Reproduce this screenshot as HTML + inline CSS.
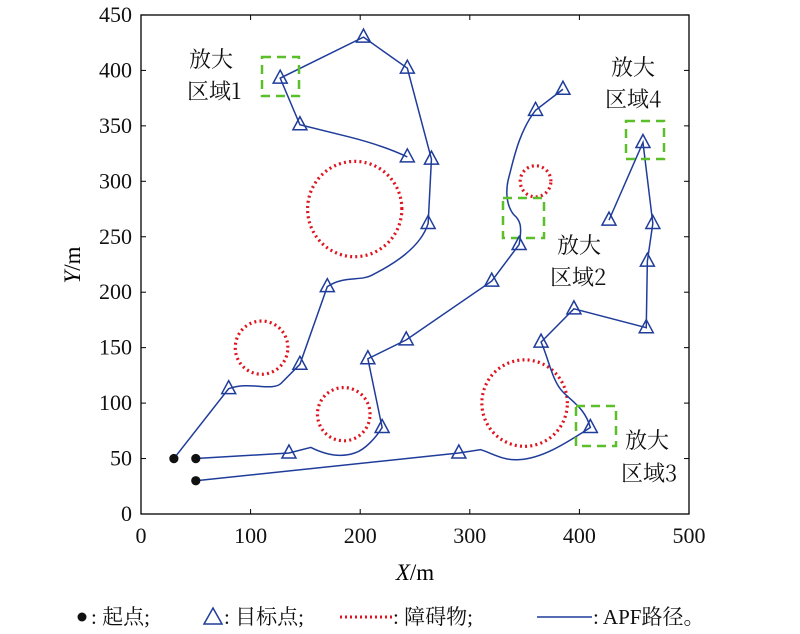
<!DOCTYPE html>
<html><head><meta charset="utf-8"><style>
body{margin:0;background:#fff;}
svg{display:block;font-family:"Liberation Serif","Noto Serif CJK SC",serif;}
</style></head><body>
<svg id="s" width="800" height="634" viewBox="0 0 800 634">
<rect x="141" y="15" width="548" height="499" fill="none" stroke="#000" stroke-width="1.3"/>
<g id="ticks" stroke="#000" stroke-width="1"></g>
<g font-size="22" fill="#111" id="lab"></g>
<text x="415" y="580" font-size="23" text-anchor="middle"><tspan font-style="italic">X</tspan>/m</text>
<text transform="translate(80,265) rotate(-90)" font-size="23" text-anchor="middle"><tspan font-style="italic">Y</tspan>/m</text>
<g transform="translate(141,514) scale(1.096,-1.109)">
 <g fill="none" stroke="#e0141e" stroke-width="3.2" stroke-dasharray="2 3.2">
  <circle cx="195" cy="275" r="43" vector-effect="non-scaling-stroke"/>
  <circle cx="110" cy="150" r="24" vector-effect="non-scaling-stroke"/>
  <circle cx="185" cy="90" r="24" vector-effect="non-scaling-stroke"/>
  <circle cx="350" cy="100" r="39" vector-effect="non-scaling-stroke"/>
  <circle cx="360" cy="300" r="14" vector-effect="non-scaling-stroke"/>
 </g>
 <g fill="none" stroke="#1f3c9a" stroke-width="1.5">
  <path vector-effect="non-scaling-stroke" d="M30,50 L80,113 C100,120 120,110 128,118 L145,135 L170,205 C185,215 200,210 210,215 C230,225 255,240 262,262 L265,320 L243,402 L203,430 L127,393 L145,351 L190,340 C210,335 230,328 243,322"/>
  <path vector-effect="non-scaling-stroke" d="M50,50 L135,55 L155,60 C165,55 180,50 195,55 C205,58 215,70 220,78 L207,140 L242,157 L320,210 L345,243 C348,260 346,265 340,270 C332,280 333,295 336,305 C340,320 345,345 360,364 L385,383"/>
  <path vector-effect="non-scaling-stroke" d="M50,30 L290,55 L310,58 C320,55 330,48 345,49 C365,50 385,62 410,78 C405,95 395,100 385,110 C375,120 372,140 365,155 L395,185 L461,168 L462,228 L467,262 L458,335 L427,265"/>
 </g>
 <g fill="#111">
  <circle cx="30" cy="50" r="4.2"/><circle cx="50" cy="50" r="4.2"/><circle cx="50" cy="30" r="4.2"/>
 </g>
</g>
<g fill="none" stroke="#5bbf2a" stroke-width="2.5" stroke-dasharray="9 6">
 <rect x="262" y="57" width="37" height="39"/>
 <rect x="503" y="198" width="41" height="40"/>
 <rect x="576" y="406" width="40" height="40"/>
 <rect x="626" y="121" width="38" height="38"/>
</g>
<g id="tri" fill="none" stroke="#1f3c9a" stroke-width="1.5"></g>
<g font-size="22" fill="#111" font-family="'Noto Serif CJK SC','Liberation Serif',serif">
 <text x="189" y="67">放大</text><text x="187" y="99">区域1</text>
 <text x="557" y="253">放大</text><text x="550" y="285">区域2</text>
 <text x="625" y="448">放大</text><text x="621" y="481">区域3</text>
 <text x="611" y="75">放大</text><text x="605" y="107">区域4</text>
</g>
<g font-size="21" fill="#111" font-family="'Liberation Serif','Noto Serif CJK SC',serif">
 <circle cx="82" cy="617" r="4.5" fill="#111"/>
 <text x="91" y="624">: 起点;</text>
 <path d="M204,624 L213,608 L222,624 Z" fill="none" stroke="#1f3c9a" stroke-width="1.5"/>
 <text x="224" y="624">: 目标点;</text>
 <line x1="340" y1="617" x2="392" y2="617" stroke="#e0141e" stroke-width="3" stroke-dasharray="2 3"/>
 <text x="393" y="624">: 障碍物;</text>
 <line x1="537" y1="617" x2="592" y2="617" stroke="#1f3c9a" stroke-width="1.5"/>
 <text x="593" y="624">: APF路径。</text>
</g>
</svg>
<script>
var X=function(x){return 141+x*1.096},Y=function(y){return 514-y*1.109};
var ns="http://www.w3.org/2000/svg";
var tk=document.getElementById('ticks'),lab=document.getElementById('lab');
function el(p,n,a,t){var e=document.createElementNS(ns,n);for(var k in a)e.setAttribute(k,a[k]);if(t!==undefined)e.textContent=String(t);p.appendChild(e);}
for(var v=0;v<=500;v+=100){var x=X(v);el(tk,'line',{x1:x,x2:x,y1:514,y2:509});el(tk,'line',{x1:x,x2:x,y1:15,y2:20});el(lab,'text',{x:x,y:543,'text-anchor':'middle'},v);}
for(var v=0;v<=450;v+=50){var y=Y(v);el(tk,'line',{x1:141,x2:146,y1:y,y2:y});el(tk,'line',{x1:689,x2:684,y1:y,y2:y});el(lab,'text',{x:132,y:y+7,'text-anchor':'end'},v);}
var T=[[80,113],[145,135],[170,205],[262,262],[265,320],[243,402],[203,430],[127,393],[145,351],[243,322],[135,55],[220,78],[207,140],[242,157],[320,210],[345,243],[360,364],[385,383],[290,55],[410,78],[365,155],[395,185],[461,168],[462,228],[467,262],[458,335],[427,265]];
var g=document.getElementById('tri');
T.forEach(function(p){var x=X(p[0]),y=Y(p[1]);el(g,'path',{d:'M'+(x-7)+','+(y+5)+' L'+x+','+(y-8)+' L'+(x+7)+','+(y+5)+' Z'});});
</script>
</body></html>
